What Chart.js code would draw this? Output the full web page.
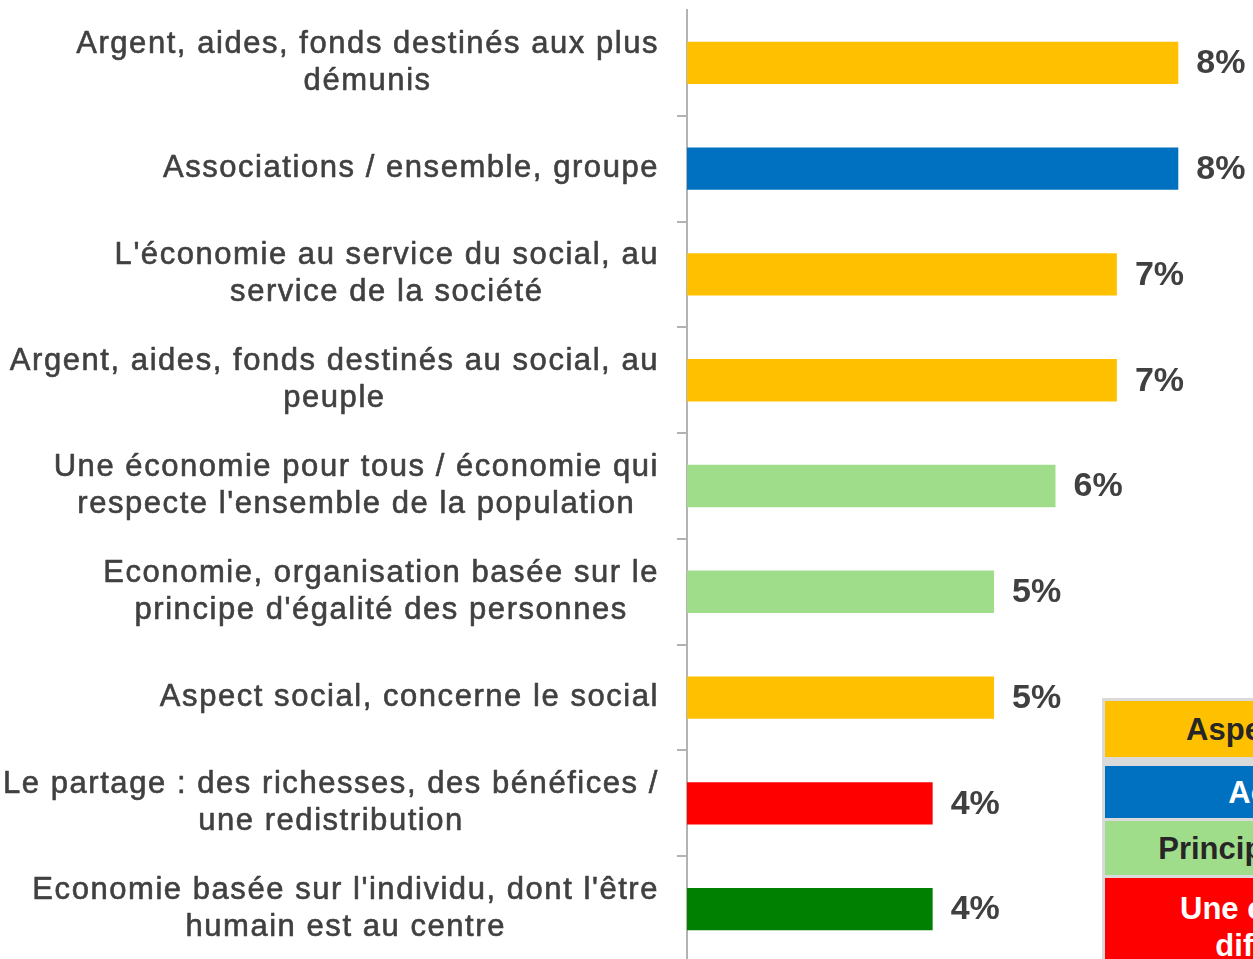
<!DOCTYPE html>
<html>
<head>
<meta charset="utf-8">
<script src="https://cdn.jsdelivr.net/npm/chart.js@4/dist/chart.umd.min.js"></script>
<style>
  html, body { margin:0; padding:0; background:#fff; width:1253px; height:959px; overflow:hidden; }
  #wrap { position:relative; width:1253px; height:959px; overflow:hidden; }
  #cv { position:absolute; left:0; top:0; }
  #legend { position:absolute; left:1102px; top:698px; width:362px; background:#dadada; padding:3px 3px 40px 3px;
            font-family:"Liberation Sans", Arial, sans-serif; font-weight:bold; font-size:31px; line-height:37px; }
  .cell { display:flex; align-items:center; justify-content:center; text-align:center; white-space:nowrap; }
</style>
</head>
<body>
<div id="wrap">
  <canvas id="cv" width="1253" height="975"></canvas>
  <div id="legend"></div>
</div>
<script>
const categories = [
  ["Argent, aides, fonds destinés aux plus", "démunis"],
  ["Associations / ensemble, groupe"],
  ["L'économie au service du social, au", "service de la société"],
  ["Argent, aides, fonds destinés au social, au", "peuple"],
  ["Une économie pour tous / économie qui", "respecte l'ensemble de la population"],
  ["Economie, organisation basée sur le", "principe d'égalité des personnes"],
  ["Aspect social, concerne le social"],
  ["Le partage : des richesses, des bénéfices /", "une redistribution"],
  ["Economie basée sur l'individu, dont l'être", "humain est au centre"]
];
const values = [8, 8, 7, 7, 6, 5, 5, 4, 4];
const barColors = ["#FFC000", "#0070C0", "#FFC000", "#FFC000", "#A0DD8B", "#A0DD8B", "#FFC000", "#FF0000", "#008000"];

const legendLabels = [["Aspect social"], ["Acteurs"], ["Principe d'égalité"], ["Une économie", "différente"]];
const legendColors = ["#FFC000", "#0070C0", "#A0DD8B", "#FF0000"];
const legendText = ["#262626", "#FFFFFF", "#262626", "#FFFFFF"];

// legend table (HTML)
(function(){
  const heights = [56, 52, 54, 90];
  const gaps = [9, 3, 3, 0];
  const lg = document.getElementById('legend');
  legendLabels.forEach((lines, i) => {
    const d = document.createElement('div');
    d.className = 'cell';
    d.style.background = legendColors[i];
    d.style.color = legendText[i];
    d.style.height = heights[i] + 'px';
    d.style.marginBottom = gaps[i] + 'px';
    if (i === 3) { d.style.alignItems = 'flex-start'; d.style.paddingTop = '12px'; d.style.height = (heights[i]-12) + 'px'; }
    d.innerHTML = lines.join('<br>');
    lg.appendChild(d);
  });
})();

const FONT = '"Liberation Sans", Arial, sans-serif';

const labelPlugin = {
  id: 'labelPlugin',
  afterDatasetsDraw(chart) {
    const ctx = chart.ctx;
    const ys = chart.scales.y;
    ctx.save();
    ctx.font = '31px ' + FONT;
    try { ctx.letterSpacing = '1.55px'; } catch (e) {}
    ctx.fillStyle = '#404040';
    ctx.strokeStyle = '#404040';
    ctx.lineWidth = 0.6;
    ctx.lineJoin = 'round';
    ctx.textBaseline = 'middle';
    ctx.textAlign = 'center';
    const right = ys.right - 28;
    const lh = 37;
    chart.data.labels.forEach((lines, i) => {
      const y = ys.getPixelForTick(i);
      const w = Math.max(...lines.map(l => ctx.measureText(l).width));
      const cx = right - w / 2;
      const y0 = y - (lines.length - 1) * lh / 2;
      lines.forEach((l, j) => {
        ctx.fillText(l, cx, y0 + j * lh);
        ctx.strokeText(l, cx, y0 + j * lh);
      });
    });
    try { ctx.letterSpacing = '0px'; } catch (e) {}
    ctx.font = 'bold 34px ' + FONT;
    ctx.textAlign = 'left';
    const meta = chart.getDatasetMeta(0);
    meta.data.forEach((bar, i) => {
      ctx.fillText(chart.data.datasets[0].data[i] + '%', bar.x + 18, bar.y + 1);
    });
    ctx.restore();
  }
};

new Chart(document.getElementById('cv'), {
  type: 'bar',
  data: {
    labels: categories,
    datasets: [{
      data: values,
      backgroundColor: barColors,
      borderWidth: 0,
      categoryPercentage: 1,
      barPercentage: 0.4
    }]
  },
  options: {
    indexAxis: 'y',
    responsive: false,
    animation: false,
    devicePixelRatio: 1,
    layout: { padding: { top: 10, bottom: 13, left: 0, right: 1 } },
    plugins: { legend: { display: false }, tooltip: { enabled: false } },
    scales: {
      x: { display: false, min: 0, max: 9.2 },
      y: {
        afterFit: s => { s.width = 687; },
        ticks: { display: false },
        border: { display: true, color: '#b3b3b3', width: 2 },
        grid: {
          display: true,
          drawOnChartArea: false,
          drawTicks: true,
          tickLength: 10,
          offset: true,
          lineWidth: 2,
          color: c => (c.index === 0 ? 'rgba(0,0,0,0)' : '#b3b3b3')
        }
      }
    }
  },
  plugins: [labelPlugin]
});
</script>
</body>
</html>
